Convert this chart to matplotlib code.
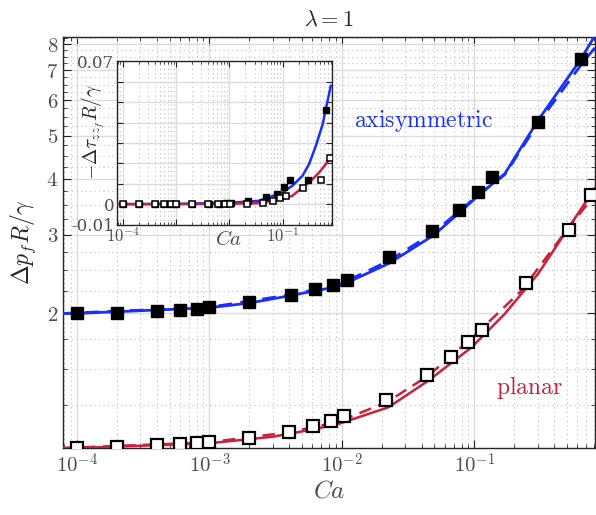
import numpy as np
import matplotlib
matplotlib.use("Agg")
import matplotlib.pyplot as plt
from matplotlib.ticker import FixedLocator, FixedFormatter, LogLocator, NullFormatter

plt.rcParams['mathtext.fontset'] = 'cm'
plt.rcParams['font.family'] = 'serif'

# simulation points, axisymmetric (filled) and planar (open)
axi_ca = [1e-4, 2e-4, 4e-4, 6e-4, 8e-4, 1e-3, 2e-3, 4.1e-3, 6.3e-3, 8.5e-3, 1.09e-2,
          2.25e-2, 4.83e-2, 7.7e-2, 0.107, 0.136, 0.30, 0.64]
axi_dp = [2.00, 2.007, 2.03, 2.04, 2.05, 2.07, 2.12, 2.20, 2.27, 2.32, 2.38,
          2.67, 3.05, 3.40, 3.73, 4.03, 5.35, 7.4]
axi_tau = [0.0, 0.0, 0.0, 0.0, 0.0, 0.0, 0.0001, 0.0002, 0.0003, 0.0004, 0.0005,
           0.0016, 0.0033, 0.0049, 0.0085, 0.0119, 0.0118, 0.046]

pl_ca = [1e-4, 2e-4, 4e-4, 6e-4, 8e-4, 1e-3, 2e-3, 4e-3, 6.05e-3, 8.3e-3, 1.04e-2,
         2.14e-2, 4.36e-2, 6.7e-2, 9.0e-2, 0.115, 0.246, 0.518, 0.76]
pl_dp = [1.00, 1.005, 1.014, 1.021, 1.027, 1.032, 1.055, 1.088, 1.123, 1.148, 1.178,
         1.282, 1.458, 1.596, 1.73, 1.84, 2.34, 3.08, 3.68]
pl_tau = [0.0, 0.0, 0.0, 0.0, 0.0, 0.0, 0.0, 0.0001, 0.0001, 0.0001, 0.0002,
          0.0003, 0.0008, 0.0016, 0.0028, 0.0038, 0.008, 0.0118, 0.0225]

# theory curves
axi_fit_ca = [7.85e-5, 1e-4, 1e-3, 2e-3, 4e-3, 9.5e-3, 0.0225, 0.0492, 0.078, 0.107, 0.17, 0.303, 0.641, 0.81]
axi_fit = [2.0, 2.0, 2.06, 2.11, 2.19, 2.30, 2.585, 2.99, 3.37, 3.67, 4.11, 5.41, 7.43, 8.35]
axi_dash_ca = [7.85e-5, 1e-3, 4e-3, 9.5e-3, 0.0225, 0.0492, 0.107, 0.17, 0.303, 0.641, 0.81]
axi_dash = [2.0, 2.065, 2.20, 2.32, 2.62, 3.03, 3.68, 4.09, 5.33, 7.2, 7.85]

pl_fit_ca = [7.85e-5, 1e-4, 1e-3, 3e-3, 6e-3, 9.5e-3, 0.0225, 0.0451, 0.0955, 0.170, 0.303, 0.539, 0.762, 0.81]
pl_fit = [1.0, 1.0, 1.025, 1.06, 1.10, 1.133, 1.234, 1.416, 1.681, 1.997, 2.454, 3.176, 3.706, 3.81]
pl_dash_ca = [7.85e-5, 1e-3, 4e-3, 9.5e-3, 0.0225, 0.0451, 0.0955, 0.227, 0.509, 0.81]
pl_dash = [1.0, 1.03, 1.085, 1.145, 1.273, 1.453, 1.76, 2.25, 3.10, 3.68]

in_axi_ca = [7.85e-5, 1e-3, 1e-2, 0.0357, 0.1, 0.152, 0.236, 0.313, 0.42, 0.561, 0.645, 0.80]
in_axi = [0.0, 0.0001, 0.0007, 0.0016, 0.0057, 0.009, 0.0139, 0.0196, 0.0286, 0.039, 0.0466, 0.058]
in_pl_ca = [7.85e-5, 1e-3, 1e-2, 0.0357, 0.1, 0.152, 0.236, 0.313, 0.484, 0.645, 0.81]
in_pl = [0.0, 0.0, 0.0002, 0.0005, 0.0025, 0.0041, 0.0082, 0.0106, 0.0155, 0.0196, 0.0237]

yticks_main = [2, 3, 4, 5, 6, 7, 8]

blue = '#1a30ff'
red = '#cc1f3c'
tick_col = '#4d4d4d'

fig = plt.figure(figsize=(5.96, 5.15), dpi=100)
ax = fig.add_axes([0.1057, 0.130, 0.8925, 0.798])

ax.plot(axi_fit_ca, axi_fit, '-', color=blue, lw=2.0, zorder=3)
ax.plot(axi_dash_ca, axi_dash, '--', color=blue, lw=2.0, dashes=(5, 3), zorder=3)
ax.plot(pl_fit_ca, pl_fit, '-', color=red, lw=1.8, zorder=3)
ax.plot(pl_dash_ca, pl_dash, '--', color=red, lw=1.8, dashes=(5, 3), zorder=3)
ax.plot(axi_ca, axi_dp, 's', ms=8.5, mfc='black', mec='black', zorder=4)
ax.plot(pl_ca, pl_dp, 's', ms=8, mfc='white', mec='black', mew=1.6, zorder=4)

ax.set_xscale('log')
ax.set_yscale('log')
ax.set_xlim(10**-4.105, 10**-0.09)
ax.set_ylim(1.0, 8.3)

ax.xaxis.set_major_locator(FixedLocator([1e-4, 1e-3, 1e-2, 1e-1]))
ax.xaxis.set_major_formatter(FixedFormatter(['$10^{-4}$', '$10^{-3}$', '$10^{-2}$', '$10^{-1}$']))
ax.xaxis.set_minor_locator(LogLocator(base=10, subs=np.arange(2, 10)))
ax.xaxis.set_minor_formatter(NullFormatter())
ax.yaxis.set_major_locator(FixedLocator(yticks_main))
ax.yaxis.set_major_formatter(FixedFormatter(['$%d$' % v for v in yticks_main]))
ax.yaxis.set_minor_locator(FixedLocator([v for v in np.arange(1.25, 8.3, 0.25) if v % 1 != 0]))
ax.yaxis.set_minor_formatter(NullFormatter())

ax.grid(which='major', color='#dcdcdc', lw=1.0, ls='-')
ax.grid(which='minor', color='#bdbdbd', lw=0.8, ls=(0, (1, 3)))
ax.set_axisbelow(True)
ax.tick_params(which='both', direction='in', top=True, right=True, colors='#262626',
               labelcolor=tick_col, labelsize=15)
ax.tick_params(which='major', length=6)
ax.tick_params(which='minor', length=3)
for s in ax.spines.values():
    s.set_color('#262626')
    s.set_linewidth(1.0)

ax.set_xlabel('$Ca$', fontsize=18, color=tick_col, labelpad=2)
ax.set_ylabel(r'$\Delta p_f R/\gamma$', fontsize=17, color='#262626', labelpad=6)
ax.set_title(r'$\lambda = 1$', fontsize=16, color='#262626', pad=8)

ax.text(0.0414, 5.4, r'$\mathrm{axisymmetric}$', color=blue, fontsize=17, ha='center', va='center')
ax.text(0.26, 1.366, r'$\mathrm{planar}$', color=red, fontsize=17, ha='center', va='center')

# inset
axi = fig.add_axes([0.196, 0.564, 0.361, 0.317])
axi.plot(in_axi_ca, in_axi, '-', color=blue, lw=1.8, zorder=3)
axi.plot(in_pl_ca, in_pl, '-', color=red, lw=1.8, zorder=3)
axi.plot(axi_ca, axi_tau, 's', ms=4.3, mfc='black', mec='black', zorder=4)
axi.plot(pl_ca, pl_tau, 's', ms=4.3, mfc='white', mec='black', mew=1.1, zorder=4)
axi.set_xscale('log')
axi.set_xlim(10**-4.11, 10**-0.075)
axi.set_ylim(-0.01, 0.07)
axi.xaxis.set_major_locator(FixedLocator([1e-4, 1e-3, 1e-2, 1e-1]))
axi.xaxis.set_major_formatter(FixedFormatter(['$10^{-4}$', '', '', '$10^{-1}$']))
axi.xaxis.set_minor_locator(LogLocator(base=10, subs=np.arange(2, 10)))
axi.xaxis.set_minor_formatter(NullFormatter())
ytk = np.round(np.arange(-0.01, 0.0701, 0.01), 3)
axi.yaxis.set_major_locator(FixedLocator(ytk))
axi.yaxis.set_major_formatter(FixedFormatter(['-0.01', '0', '', '', '', '', '', '', '0.07']))
axi.grid(which='major', color='#dcdcdc', lw=1.0, ls='-')
axi.grid(which='minor', axis='x', color='#bdbdbd', lw=0.8, ls=(0, (1, 3)))
axi.set_axisbelow(True)
axi.tick_params(which='both', direction='in', top=True, right=True, colors='#262626',
                labelcolor=tick_col, labelsize=12, pad=2)
axi.tick_params(which='major', length=4)
axi.tick_params(which='minor', length=2)
for s in axi.spines.values():
    s.set_color('#262626')
    s.set_linewidth(1.0)
axi.text(0.52, -0.035, '$Ca$', transform=axi.transAxes, ha='center', va='top',
         fontsize=15, color=tick_col)
axi.set_ylabel(r'$-\Delta\tau_{zz_f} R/\gamma$', fontsize=14, color='#262626')
axi.yaxis.set_label_coords(-0.045, 0.57)

fig.savefig('out.png', dpi=100)
